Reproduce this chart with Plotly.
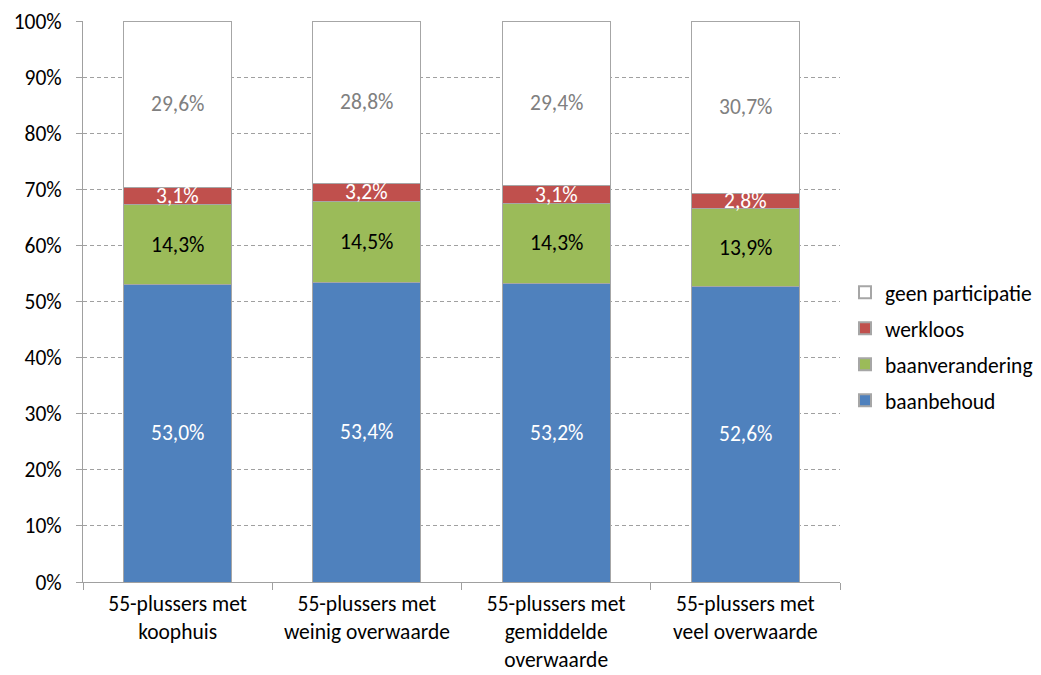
import plotly.graph_objects as go

categories = ["55-plussers met<br>koophuis", "55-plussers met<br>weinig overwaarde",
              "55-plussers met<br>gemiddelde<br>overwaarde", "55-plussers met<br>veel overwaarde"]
baanbehoud = [53.0, 53.4, 53.2, 52.6]
baanverandering = [14.3, 14.5, 14.3, 13.9]
werkloos = [3.1, 3.2, 3.1, 2.8]
geen_participatie = [29.6, 28.8, 29.4, 30.7]
y_ticks = [0, 10, 20, 30, 40, 50, 60, 70, 80, 90, 100]

FONT = "Carlito, Lato, sans-serif"
FS = 21.5
series = [
    ("baanbehoud", baanbehoud, "#4F81BD", "white"),
    ("baanverandering", baanverandering, "#9BBB59", "black"),
    ("werkloos", werkloos, "#C0504D", "white"),
    ("geen participatie", geen_participatie, "#FFFFFF", "#808080"),
]

fig = go.Figure()
annotations = []
base = [0.0] * len(categories)
for k, (name, vals, color, tcolor) in enumerate(series):
    fig.add_trace(go.Bar(
        name=name, legendgroup=name, legendrank=len(series) - k, x=categories, y=vals,
        marker=dict(color=color, line=dict(color="#A6A6A6", width=1)),
        hoverinfo="skip"))
    for i, v in enumerate(vals):
        annotations.append(dict(
            x=categories[i], y=base[i] + v / 2, xref="x", yref="y",
            text=f"{v:.1f}%".replace(".", ","), showarrow=False,
            font=dict(family=FONT, size=FS, color=tcolor)))
        base[i] += v

fig.update_layout(
    barmode="stack", bargap=0.43,
    width=1041, height=675,
    margin=dict(l=83, r=201, t=21, b=93, autoexpand=False),
    plot_bgcolor="white", paper_bgcolor="white",
    font=dict(family=FONT, size=FS, color="black"),
    annotations=annotations,
    legend=dict(traceorder="grouped", x=1.0066, y=0.42, xanchor="left", yanchor="middle",
                font=dict(family=FONT, size=FS), itemsizing="constant", tracegroupgap=5,
                itemwidth=30),
    showlegend=True,
)
fig.update_yaxes(
    range=[0, 100], tickvals=y_ticks, ticktext=[f"{t}%" for t in y_ticks],
    showgrid=True, gridcolor="#A0A0A0", griddash="4px,3px", gridwidth=1,
    showline=True, linecolor="#A0A0A0", linewidth=1,
    ticks="outside", ticklen=6, tickcolor="#A0A0A0", ticklabelstandoff=10,
    zeroline=False, fixedrange=True, automargin=False,
)
fig.update_xaxes(
    showline=True, linecolor="#A0A0A0", linewidth=1,
    ticks="outside", tickson="boundaries", ticklen=7, tickcolor="#A0A0A0", ticklabelstandoff=2,
    showgrid=False, fixedrange=True, automargin=False,
)
fig.write_html("out.html")
